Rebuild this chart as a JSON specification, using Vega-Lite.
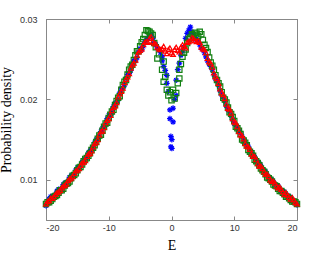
{
  "$schema": "https://vega.github.io/schema/vega-lite/v6.json",
  "width": 251,
  "height": 201,
  "autosize": "none",
  "padding": {"left": 46, "top": 19, "right": 32, "bottom": 36},
  "background": "white",
  "config": {
    "view": {"stroke": "#888888", "strokeWidth": 1},
    "axis": {
      "grid": false,
      "domainColor": "#888888",
      "tickColor": "#888888",
      "labelColor": "#333333",
      "labelFont": "Liberation Sans",
      "labelFontSize": 9,
      "titleFont": "Liberation Serif",
      "titleFontSize": 14,
      "titleFontWeight": "normal",
      "titleColor": "#000000"
    }
  },
  "data": {
    "values": [
      {"s":"a","E":-20,"p":0.0068},{"s":"a","E":-19.5,"p":0.0076},{"s":"a","E":-19,"p":0.0079},{"s":"a","E":-18.5,"p":0.0081},{"s":"a","E":-18,"p":0.0088},{"s":"a","E":-17.5,"p":0.0089},{"s":"a","E":-17,"p":0.0096},{"s":"a","E":-16.5,"p":0.0098},{"s":"a","E":-16,"p":0.0105},{"s":"a","E":-15.5,"p":0.0107},{"s":"a","E":-15,"p":0.0115},{"s":"a","E":-14.5,"p":0.0117},{"s":"a","E":-14,"p":0.0124},{"s":"a","E":-13.5,"p":0.0128},{"s":"a","E":-13,"p":0.0136},{"s":"a","E":-12.5,"p":0.014},{"s":"a","E":-12,"p":0.015},{"s":"a","E":-11.5,"p":0.0154},{"s":"a","E":-11,"p":0.0164},{"s":"a","E":-10.5,"p":0.0169},{"s":"a","E":-10,"p":0.018},{"s":"a","E":-9.5,"p":0.0184},{"s":"a","E":-9,"p":0.0195},{"s":"a","E":-8.5,"p":0.02},{"s":"a","E":-8,"p":0.0213},{"s":"a","E":-7.5,"p":0.0218},{"s":"a","E":-7,"p":0.0231},{"s":"a","E":-6.5,"p":0.0236},{"s":"a","E":-6,"p":0.0248},{"s":"a","E":-5.5,"p":0.0252},{"s":"a","E":-5,"p":0.0263},{"s":"a","E":-4.5,"p":0.0266},{"s":"a","E":-4,"p":0.0274},{"s":"a","E":-3.5,"p":0.0279},{"s":"a","E":-3,"p":0.0276},{"s":"a","E":-2.5,"p":0.0268},{"s":"a","E":-2,"p":0.0262},{"s":"a","E":-1.5,"p":0.0253},{"s":"a","E":-1.5,"p":0.0248},{"s":"a","E":-1.25,"p":0.0241},{"s":"a","E":-1,"p":0.0236},{"s":"a","E":-0.75,"p":0.023},{"s":"a","E":-0.75,"p":0.022},{"s":"a","E":-0.5,"p":0.021},{"s":"a","E":-0.25,"p":0.0187},{"s":"a","E":-0.25,"p":0.0176},{"s":"a","E":-0.1,"p":0.0154},{"s":"a","E":-0.1,"p":0.0141},{"s":"a","E":0.05,"p":0.015},{"s":"a","E":0.05,"p":0.0139},{"s":"a","E":0.25,"p":0.0189},{"s":"a","E":0.25,"p":0.0172},{"s":"a","E":0.5,"p":0.02},{"s":"a","E":0.75,"p":0.0224},{"s":"a","E":0.75,"p":0.0205},{"s":"a","E":1,"p":0.0237},{"s":"a","E":1.25,"p":0.0245},{"s":"a","E":1.5,"p":0.0255},{"s":"a","E":2,"p":0.0265},{"s":"a","E":2.5,"p":0.0282},{"s":"a","E":3,"p":0.029},{"s":"a","E":3.5,"p":0.028},{"s":"a","E":4,"p":0.0274},{"s":"a","E":4.5,"p":0.0268},{"s":"a","E":5,"p":0.0262},{"s":"a","E":5.5,"p":0.0253},{"s":"a","E":6,"p":0.0244},{"s":"a","E":6.5,"p":0.0237},{"s":"a","E":7,"p":0.0226},{"s":"a","E":7.5,"p":0.0218},{"s":"a","E":8,"p":0.0206},{"s":"a","E":8.5,"p":0.0198},{"s":"a","E":9,"p":0.0187},{"s":"a","E":9.5,"p":0.018},{"s":"a","E":10,"p":0.017},{"s":"a","E":10.5,"p":0.0164},{"s":"a","E":11,"p":0.0158},{"s":"a","E":11.5,"p":0.0149},{"s":"a","E":12,"p":0.0144},{"s":"a","E":12.5,"p":0.0136},{"s":"a","E":13,"p":0.0131},{"s":"a","E":13.5,"p":0.0123},{"s":"a","E":14,"p":0.012},{"s":"a","E":14.5,"p":0.0112},{"s":"a","E":15,"p":0.011},{"s":"a","E":15.5,"p":0.0102},{"s":"a","E":16,"p":0.01},{"s":"a","E":16.5,"p":0.0094},{"s":"a","E":17,"p":0.0092},{"s":"a","E":17.5,"p":0.0086},{"s":"a","E":18,"p":0.0085},{"s":"a","E":18.5,"p":0.0079},{"s":"a","E":19,"p":0.0078},{"s":"a","E":19.5,"p":0.0073},{"s":"a","E":20,"p":0.0069},
      {"s":"a","E":-19.75,"p":0.0071},{"s":"a","E":-19.25,"p":0.0079},{"s":"a","E":-18.75,"p":0.008},{"s":"a","E":-18.25,"p":0.0086},{"s":"a","E":-17.75,"p":0.0087},{"s":"a","E":-17.25,"p":0.0094},{"s":"a","E":-16.75,"p":0.0096},{"s":"a","E":-16.25,"p":0.0103},{"s":"a","E":-15.75,"p":0.0105},{"s":"a","E":-15.25,"p":0.0112},{"s":"a","E":-14.75,"p":0.0115},{"s":"a","E":-14.25,"p":0.0122},{"s":"a","E":-13.75,"p":0.0125},{"s":"a","E":-13.25,"p":0.0133},{"s":"a","E":-12.75,"p":0.0137},{"s":"a","E":-12.25,"p":0.0146},{"s":"a","E":-11.75,"p":0.0151},{"s":"a","E":-11.25,"p":0.016},{"s":"a","E":-10.75,"p":0.0165},{"s":"a","E":-10.25,"p":0.0176},{"s":"a","E":-9.75,"p":0.018},{"s":"a","E":-9.25,"p":0.0191},{"s":"a","E":-8.75,"p":0.0196},{"s":"a","E":-8.25,"p":0.0208},{"s":"a","E":-7.75,"p":0.0214},{"s":"a","E":-7.25,"p":0.0226},{"s":"a","E":-6.75,"p":0.0232},{"s":"a","E":-6.25,"p":0.0243},{"s":"a","E":-5.75,"p":0.0248},{"s":"a","E":-5.25,"p":0.0259},{"s":"a","E":-4.75,"p":0.0262},{"s":"a","E":-4.25,"p":0.0271},{"s":"a","E":-3.75,"p":0.0276},{"s":"a","E":-3.25,"p":0.028},{"s":"a","E":-2.75,"p":0.0271},{"s":"a","E":-2.25,"p":0.0264},{"s":"a","E":-1.75,"p":0.0258},{"s":"a","E":1.75,"p":0.026},{"s":"a","E":2.25,"p":0.0276},{"s":"a","E":2.75,"p":0.0286},{"s":"a","E":3.25,"p":0.0284},{"s":"a","E":3.75,"p":0.0277},{"s":"a","E":4.25,"p":0.0272},{"s":"a","E":4.75,"p":0.0264},{"s":"a","E":5.25,"p":0.0258},{"s":"a","E":5.75,"p":0.0248},{"s":"a","E":6.25,"p":0.0241},{"s":"a","E":6.75,"p":0.0231},{"s":"a","E":7.25,"p":0.0223},{"s":"a","E":7.75,"p":0.0211},{"s":"a","E":8.25,"p":0.0203},{"s":"a","E":8.75,"p":0.0192},{"s":"a","E":9.25,"p":0.0185},{"s":"a","E":9.75,"p":0.0175},{"s":"a","E":10.25,"p":0.0168},{"s":"a","E":10.75,"p":0.016},{"s":"a","E":11.25,"p":0.0154},{"s":"a","E":11.75,"p":0.0146},{"s":"a","E":12.25,"p":0.0141},{"s":"a","E":12.75,"p":0.0133},{"s":"a","E":13.25,"p":0.0128},{"s":"a","E":13.75,"p":0.0122},{"s":"a","E":14.25,"p":0.0117},{"s":"a","E":14.75,"p":0.0111},{"s":"a","E":15.25,"p":0.0106},{"s":"a","E":15.75,"p":0.0101},{"s":"a","E":16.25,"p":0.0097},{"s":"a","E":16.75,"p":0.0093},{"s":"a","E":17.25,"p":0.0089},{"s":"a","E":17.75,"p":0.0086},{"s":"a","E":18.25,"p":0.0082},{"s":"a","E":18.75,"p":0.0079},{"s":"a","E":19.25,"p":0.0075},{"s":"a","E":19.75,"p":0.0071},
      {"s":"b","E":-20,"p":0.007},{"s":"b","E":-19.5,"p":0.0072},{"s":"b","E":-19,"p":0.0076},{"s":"b","E":-18.5,"p":0.008},{"s":"b","E":-18,"p":0.0084},{"s":"b","E":-17.5,"p":0.0087},{"s":"b","E":-17,"p":0.0093},{"s":"b","E":-16.5,"p":0.0096},{"s":"b","E":-16,"p":0.0102},{"s":"b","E":-15.5,"p":0.0106},{"s":"b","E":-15,"p":0.0112},{"s":"b","E":-14.5,"p":0.0116},{"s":"b","E":-14,"p":0.0123},{"s":"b","E":-13.5,"p":0.0127},{"s":"b","E":-13,"p":0.0133},{"s":"b","E":-12.5,"p":0.014},{"s":"b","E":-12,"p":0.0147},{"s":"b","E":-11.5,"p":0.0155},{"s":"b","E":-11,"p":0.0161},{"s":"b","E":-10.5,"p":0.017},{"s":"b","E":-10,"p":0.0177},{"s":"b","E":-9.5,"p":0.0185},{"s":"b","E":-9,"p":0.0193},{"s":"b","E":-8.5,"p":0.0202},{"s":"b","E":-8,"p":0.0212},{"s":"b","E":-7.5,"p":0.0222},{"s":"b","E":-7,"p":0.0231},{"s":"b","E":-6.5,"p":0.0241},{"s":"b","E":-6,"p":0.0249},{"s":"b","E":-5.5,"p":0.026},{"s":"b","E":-5,"p":0.0266},{"s":"b","E":-4.5,"p":0.0275},{"s":"b","E":-4,"p":0.0286},{"s":"b","E":-3.5,"p":0.0284},{"s":"b","E":-3,"p":0.028},{"s":"b","E":-2.5,"p":0.0265},{"s":"b","E":-2.25,"p":0.0251},{"s":"b","E":-2,"p":0.0256},{"s":"b","E":-1.5,"p":0.0237},{"s":"b","E":-1.25,"p":0.0247},{"s":"b","E":-1.25,"p":0.0222},{"s":"b","E":-1,"p":0.0228},{"s":"b","E":-0.75,"p":0.0212},{"s":"b","E":-0.5,"p":0.0205},{"s":"b","E":-0.25,"p":0.0209},{"s":"b","E":0,"p":0.0199},{"s":"b","E":0.25,"p":0.0212},{"s":"b","E":0.5,"p":0.0201},{"s":"b","E":0.75,"p":0.0208},{"s":"b","E":1,"p":0.022},{"s":"b","E":1.25,"p":0.0237},{"s":"b","E":1.25,"p":0.0226},{"s":"b","E":1.5,"p":0.0244},{"s":"b","E":1.75,"p":0.0253},{"s":"b","E":2,"p":0.0258},{"s":"b","E":2.5,"p":0.027},{"s":"b","E":3,"p":0.0277},{"s":"b","E":3.5,"p":0.028},{"s":"b","E":4,"p":0.0282},{"s":"b","E":4.5,"p":0.0284},{"s":"b","E":5,"p":0.0274},{"s":"b","E":5.5,"p":0.0264},{"s":"b","E":6,"p":0.0252},{"s":"b","E":6.5,"p":0.0242},{"s":"b","E":7,"p":0.023},{"s":"b","E":7.5,"p":0.022},{"s":"b","E":8,"p":0.0209},{"s":"b","E":8.5,"p":0.02},{"s":"b","E":9,"p":0.019},{"s":"b","E":9.5,"p":0.0182},{"s":"b","E":10,"p":0.0173},{"s":"b","E":10.5,"p":0.0164},{"s":"b","E":11,"p":0.0157},{"s":"b","E":11.5,"p":0.0149},{"s":"b","E":12,"p":0.0143},{"s":"b","E":12.5,"p":0.0135},{"s":"b","E":13,"p":0.013},{"s":"b","E":13.5,"p":0.0123},{"s":"b","E":14,"p":0.0118},{"s":"b","E":14.5,"p":0.0112},{"s":"b","E":15,"p":0.0107},{"s":"b","E":15.5,"p":0.0102},{"s":"b","E":16,"p":0.0098},{"s":"b","E":16.5,"p":0.0093},{"s":"b","E":17,"p":0.0089},{"s":"b","E":17.5,"p":0.0086},{"s":"b","E":18,"p":0.0082},{"s":"b","E":18.5,"p":0.0079},{"s":"b","E":19,"p":0.0075},{"s":"b","E":19.5,"p":0.0073},{"s":"b","E":20,"p":0.007},
      {"s":"b","E":-19.75,"p":0.0072},{"s":"b","E":-19.25,"p":0.0074},{"s":"b","E":-18.75,"p":0.0079},{"s":"b","E":-18.25,"p":0.0081},{"s":"b","E":-17.75,"p":0.0087},{"s":"b","E":-17.25,"p":0.0089},{"s":"b","E":-16.75,"p":0.0095},{"s":"b","E":-16.25,"p":0.0098},{"s":"b","E":-15.75,"p":0.0105},{"s":"b","E":-15.25,"p":0.0108},{"s":"b","E":-14.75,"p":0.0115},{"s":"b","E":-14.25,"p":0.0119},{"s":"b","E":-13.75,"p":0.0126},{"s":"b","E":-13.25,"p":0.013},{"s":"b","E":-12.75,"p":0.0137},{"s":"b","E":-12.25,"p":0.0143},{"s":"b","E":-11.75,"p":0.0151},{"s":"b","E":-11.25,"p":0.0156},{"s":"b","E":-10.75,"p":0.0166},{"s":"b","E":-10.25,"p":0.0171},{"s":"b","E":-9.75,"p":0.0181},{"s":"b","E":-9.25,"p":0.0187},{"s":"b","E":-8.75,"p":0.0198},{"s":"b","E":-8.25,"p":0.0204},{"s":"b","E":-7.75,"p":0.0218},{"s":"b","E":-7.25,"p":0.0224},{"s":"b","E":-6.75,"p":0.0237},{"s":"b","E":-6.25,"p":0.0243},{"s":"b","E":-5.75,"p":0.0255},{"s":"b","E":-5.25,"p":0.026},{"s":"b","E":-4.75,"p":0.0271},{"s":"b","E":-4.25,"p":0.028},{"s":"b","E":-3.75,"p":0.0285},{"s":"b","E":-3.25,"p":0.0282},{"s":"b","E":-2.75,"p":0.027},{"s":"b","E":2.25,"p":0.0262},{"s":"b","E":2.75,"p":0.0275},{"s":"b","E":3.25,"p":0.0281},{"s":"b","E":3.75,"p":0.0283},{"s":"b","E":4.25,"p":0.0279},{"s":"b","E":4.75,"p":0.0281},{"s":"b","E":5.25,"p":0.0268},{"s":"b","E":5.75,"p":0.0259},{"s":"b","E":6.25,"p":0.0246},{"s":"b","E":6.75,"p":0.0237},{"s":"b","E":7.25,"p":0.0224},{"s":"b","E":7.75,"p":0.0216},{"s":"b","E":8.25,"p":0.0202},{"s":"b","E":8.75,"p":0.0196},{"s":"b","E":9.25,"p":0.0184},{"s":"b","E":9.75,"p":0.0178},{"s":"b","E":10.25,"p":0.0166},{"s":"b","E":10.75,"p":0.0161},{"s":"b","E":11.25,"p":0.015},{"s":"b","E":11.75,"p":0.0146},{"s":"b","E":12.25,"p":0.0137},{"s":"b","E":12.75,"p":0.0133},{"s":"b","E":13.25,"p":0.0125},{"s":"b","E":13.75,"p":0.0121},{"s":"b","E":14.25,"p":0.0114},{"s":"b","E":14.75,"p":0.011},{"s":"b","E":15.25,"p":0.0103},{"s":"b","E":15.75,"p":0.01},{"s":"b","E":16.25,"p":0.0094},{"s":"b","E":16.75,"p":0.0092},{"s":"b","E":17.25,"p":0.0086},{"s":"b","E":17.75,"p":0.0084},{"s":"b","E":18.25,"p":0.0079},{"s":"b","E":18.75,"p":0.0077},{"s":"b","E":19.25,"p":0.0073},{"s":"b","E":19.75,"p":0.0072},
      {"s":"c","E":-20,"p":0.007},{"s":"c","E":-19.5,"p":0.0074},{"s":"c","E":-19,"p":0.0077},{"s":"c","E":-18.5,"p":0.0082},{"s":"c","E":-18,"p":0.0085},{"s":"c","E":-17.5,"p":0.009},{"s":"c","E":-17,"p":0.0093},{"s":"c","E":-16.5,"p":0.0099},{"s":"c","E":-16,"p":0.0102},{"s":"c","E":-15.5,"p":0.0108},{"s":"c","E":-15,"p":0.0112},{"s":"c","E":-14.5,"p":0.0118},{"s":"c","E":-14,"p":0.0122},{"s":"c","E":-13.5,"p":0.0129},{"s":"c","E":-13,"p":0.0133},{"s":"c","E":-12.5,"p":0.0141},{"s":"c","E":-12,"p":0.0147},{"s":"c","E":-11.5,"p":0.0156},{"s":"c","E":-11,"p":0.0161},{"s":"c","E":-10.5,"p":0.0171},{"s":"c","E":-10,"p":0.0176},{"s":"c","E":-9.5,"p":0.0186},{"s":"c","E":-9,"p":0.0192},{"s":"c","E":-8.5,"p":0.0203},{"s":"c","E":-8,"p":0.021},{"s":"c","E":-7.5,"p":0.0221},{"s":"c","E":-7,"p":0.0228},{"s":"c","E":-6.5,"p":0.0239},{"s":"c","E":-6,"p":0.0245},{"s":"c","E":-5.5,"p":0.0255},{"s":"c","E":-5,"p":0.0261},{"s":"c","E":-4.5,"p":0.0268},{"s":"c","E":-4,"p":0.0272},{"s":"c","E":-3.75,"p":0.0271},{"s":"c","E":-3.5,"p":0.0276},{"s":"c","E":-3.25,"p":0.0278},{"s":"c","E":-3,"p":0.0272},{"s":"c","E":-2.75,"p":0.027},{"s":"c","E":-2.5,"p":0.0269},{"s":"c","E":-2.25,"p":0.0265},{"s":"c","E":-2,"p":0.0263},{"s":"c","E":-1.75,"p":0.0262},{"s":"c","E":-1.5,"p":0.0263},{"s":"c","E":-1.25,"p":0.0266},{"s":"c","E":-1,"p":0.026},{"s":"c","E":-0.75,"p":0.0257},{"s":"c","E":-0.5,"p":0.0262},{"s":"c","E":-0.25,"p":0.0264},{"s":"c","E":0,"p":0.0258},{"s":"c","E":0.25,"p":0.0256},{"s":"c","E":0.5,"p":0.0262},{"s":"c","E":0.75,"p":0.0265},{"s":"c","E":1,"p":0.0261},{"s":"c","E":1.25,"p":0.0259},{"s":"c","E":1.5,"p":0.0265},{"s":"c","E":1.75,"p":0.0268},{"s":"c","E":2,"p":0.0266},{"s":"c","E":2.25,"p":0.0264},{"s":"c","E":2.5,"p":0.0271},{"s":"c","E":2.75,"p":0.0272},{"s":"c","E":3,"p":0.0273},{"s":"c","E":3.25,"p":0.0277},{"s":"c","E":3.5,"p":0.0276},{"s":"c","E":3.75,"p":0.0273},{"s":"c","E":4,"p":0.0272},{"s":"c","E":4.5,"p":0.0271},{"s":"c","E":5,"p":0.0263},{"s":"c","E":5.5,"p":0.0258},{"s":"c","E":6,"p":0.0247},{"s":"c","E":6.5,"p":0.024},{"s":"c","E":7,"p":0.0228},{"s":"c","E":7.5,"p":0.022},{"s":"c","E":8,"p":0.0208},{"s":"c","E":8.5,"p":0.0201},{"s":"c","E":9,"p":0.0189},{"s":"c","E":9.5,"p":0.0183},{"s":"c","E":10,"p":0.0172},{"s":"c","E":10.5,"p":0.0166},{"s":"c","E":11,"p":0.0156},{"s":"c","E":11.5,"p":0.0151},{"s":"c","E":12,"p":0.0142},{"s":"c","E":12.5,"p":0.0138},{"s":"c","E":13,"p":0.0129},{"s":"c","E":13.5,"p":0.0125},{"s":"c","E":14,"p":0.0117},{"s":"c","E":14.5,"p":0.0114},{"s":"c","E":15,"p":0.0107},{"s":"c","E":15.5,"p":0.0104},{"s":"c","E":16,"p":0.0098},{"s":"c","E":16.5,"p":0.0096},{"s":"c","E":17,"p":0.009},{"s":"c","E":17.5,"p":0.0088},{"s":"c","E":18,"p":0.0082},{"s":"c","E":18.5,"p":0.0081},{"s":"c","E":19,"p":0.0076},{"s":"c","E":19.5,"p":0.0075},{"s":"c","E":20,"p":0.007},
      {"s":"c","E":-19.75,"p":0.0073},{"s":"c","E":-19.25,"p":0.0077},{"s":"c","E":-18.75,"p":0.0079},{"s":"c","E":-18.25,"p":0.0084},{"s":"c","E":-17.75,"p":0.0087},{"s":"c","E":-17.25,"p":0.0092},{"s":"c","E":-16.75,"p":0.0095},{"s":"c","E":-16.25,"p":0.0101},{"s":"c","E":-15.75,"p":0.0104},{"s":"c","E":-15.25,"p":0.0111},{"s":"c","E":-14.75,"p":0.0114},{"s":"c","E":-14.25,"p":0.0121},{"s":"c","E":-13.75,"p":0.0124},{"s":"c","E":-13.25,"p":0.0132},{"s":"c","E":-12.75,"p":0.0136},{"s":"c","E":-12.25,"p":0.0145},{"s":"c","E":-11.75,"p":0.015},{"s":"c","E":-11.25,"p":0.016},{"s":"c","E":-10.75,"p":0.0165},{"s":"c","E":-10.25,"p":0.0174},{"s":"c","E":-9.75,"p":0.018},{"s":"c","E":-9.25,"p":0.019},{"s":"c","E":-8.75,"p":0.0196},{"s":"c","E":-8.25,"p":0.0207},{"s":"c","E":-7.75,"p":0.0214},{"s":"c","E":-7.25,"p":0.0225},{"s":"c","E":-6.75,"p":0.0232},{"s":"c","E":-6.25,"p":0.0243},{"s":"c","E":-5.75,"p":0.0249},{"s":"c","E":-5.25,"p":0.0259},{"s":"c","E":-4.75,"p":0.0263},{"s":"c","E":-4.25,"p":0.0271},{"s":"c","E":4.25,"p":0.0273},{"s":"c","E":4.75,"p":0.0265},{"s":"c","E":5.25,"p":0.0262},{"s":"c","E":5.75,"p":0.0251},{"s":"c","E":6.25,"p":0.0245},{"s":"c","E":6.75,"p":0.0233},{"s":"c","E":7.25,"p":0.0226},{"s":"c","E":7.75,"p":0.0213},{"s":"c","E":8.25,"p":0.0206},{"s":"c","E":8.75,"p":0.0194},{"s":"c","E":9.25,"p":0.0188},{"s":"c","E":9.75,"p":0.0176},{"s":"c","E":10.25,"p":0.0171},{"s":"c","E":10.75,"p":0.016},{"s":"c","E":11.25,"p":0.0155},{"s":"c","E":11.75,"p":0.0145},{"s":"c","E":12.25,"p":0.0141},{"s":"c","E":12.75,"p":0.0132},{"s":"c","E":13.25,"p":0.0129},{"s":"c","E":13.75,"p":0.012},{"s":"c","E":14.25,"p":0.0117},{"s":"c","E":14.75,"p":0.011},{"s":"c","E":15.25,"p":0.0107},{"s":"c","E":15.75,"p":0.01},{"s":"c","E":16.25,"p":0.0098},{"s":"c","E":16.75,"p":0.0092},{"s":"c","E":17.25,"p":0.0091},{"s":"c","E":17.75,"p":0.0085},{"s":"c","E":18.25,"p":0.0084},{"s":"c","E":18.75,"p":0.0078},{"s":"c","E":19.25,"p":0.0078},{"s":"c","E":19.75,"p":0.0072}
    ]
  },
  "layer": [
    {
      "mark": {"type": "point", "filled": false, "strokeWidth": 1.2, "opacity": 1, "clip": false},
      "encoding": {
        "x": {"field": "E", "type": "quantitative", "scale": {"domain": [-20, 20], "nice": false},
          "axis": {"orient": "bottom", "values": [-20, -10, 0, 10, 20], "labelExpr": "datum.value", "tickSize": -4, "labelPadding": 7, "title": "E", "titlePadding": 6}},
        "y": {"field": "p", "type": "quantitative", "scale": {"domain": [0.005, 0.03], "nice": false, "zero": false},
          "axis": {"orient": "left", "values": [0.01, 0.02, 0.03], "format": ".2f", "tickSize": -4, "labelPadding": 13, "title": "Probability density", "titlePadding": 6}},
        "color": {"field": "s", "type": "nominal", "legend": null,
          "scale": {"domain": ["a", "b", "c"], "range": ["#0000ff", "#128012", "#ff0000"]}},
        "shape": {"field": "s", "type": "nominal", "legend": null,
          "scale": {"domain": ["a", "b", "c"], "range": ["M0,-1V1M-1,0H1M-0.7,-0.7L0.7,0.7M-0.7,0.7L0.7,-0.7", "square", "triangle-up"]}},
        "size": {"field": "s", "type": "nominal", "legend": null,
          "scale": {"domain": ["a", "b", "c"], "range": [34, 22, 58]}},
        "order": {"field": "s", "sort": "ascending"}
      }
    },
    {
      "mark": {"type": "point", "opacity": 0},
      "encoding": {
        "x": {"field": "E", "type": "quantitative", "scale": {"domain": [-20, 20], "nice": false},
          "axis": {"orient": "top", "values": [-20, -10, 0, 10, 20], "labels": false, "tickSize": -4, "title": null}},
        "y": {"field": "p", "type": "quantitative", "scale": {"domain": [0.005, 0.03], "nice": false, "zero": false},
          "axis": {"orient": "right", "values": [0.01, 0.02, 0.03], "labels": false, "tickSize": -4, "title": null}}
      }
    }
  ],
  "resolve": {"axis": {"x": "independent", "y": "independent"}}
}
